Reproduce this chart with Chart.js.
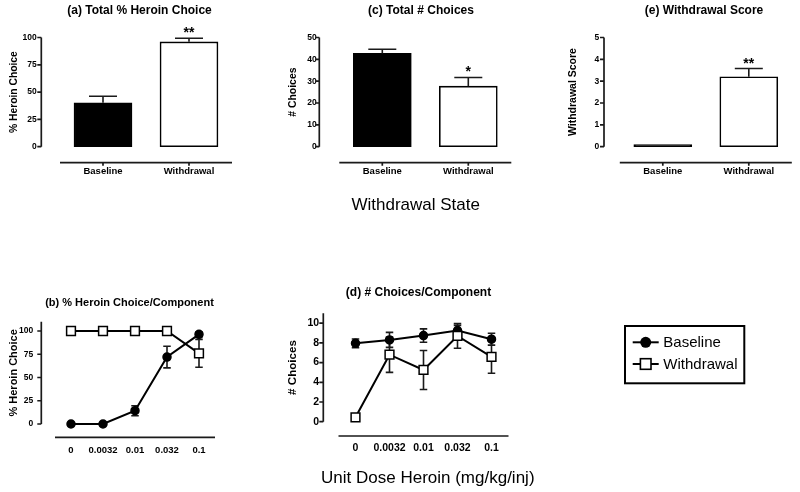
<!DOCTYPE html>
<html><head><meta charset="utf-8">
<script src="https://cdn.jsdelivr.net/npm/chart.js@4.4.1/dist/chart.umd.min.js"></script>
<style>
html,body{margin:0;padding:0;background:#fff;}
body{width:800px;height:492px;overflow:hidden;position:relative;font-family:'Liberation Sans',Arial,sans-serif;}
canvas{position:absolute;}
#overlay{position:absolute;left:0;top:0;}
</style></head><body>
<canvas id="cA" width="279" height="190" style="left:0px;top:0px"></canvas>
<canvas id="cC" width="278" height="190" style="left:282px;top:0px"></canvas>
<canvas id="cE" width="288" height="190" style="left:560px;top:0px"></canvas>
<canvas id="cB" width="259" height="200" style="left:0px;top:280px"></canvas>
<canvas id="cD" width="273" height="200" style="left:282px;top:280px"></canvas>
<svg id="overlay" width="800" height="492" xmlns="http://www.w3.org/2000/svg" font-family="'Liberation Sans', Arial, sans-serif">
  <text x="415.7" y="210" font-size="17" text-anchor="middle" fill="#000">Withdrawal State</text>
  <text x="427.8" y="482.5" font-size="17" text-anchor="middle" fill="#000">Unit Dose Heroin (mg/kg/inj)</text>
  <rect x="625" y="326" width="119.3" height="57.3" fill="#fff" stroke="#000" stroke-width="2"/>
  <line x1="632.7" y1="342.3" x2="658.7" y2="342.3" stroke="#000" stroke-width="2"/>
  <circle cx="645.7" cy="342.3" r="5.5" fill="#000"/>
  <line x1="632.7" y1="364" x2="658.7" y2="364" stroke="#000" stroke-width="2"/>
  <rect x="640.4" y="358.7" width="10.6" height="10.6" fill="#fff" stroke="#000" stroke-width="1.6"/>
  <text x="663.3" y="347.3" font-size="15" fill="#000">Baseline</text>
  <text x="663.3" y="369" font-size="15" fill="#000">Withdrawal</text>
</svg>
<script>
// ---------- data ----------
const stateLabels = ['Baseline', 'Withdrawal'];
const pctHeroin = [40.2, 96];
const pctHeroinErr = [6, 3.3];
const pctHeroinSig = ['', '**'];
const totalChoices = [42.7, 27.7];
const totalChoicesErr = [1.9, 4];
const totalChoicesSig = ['', '*'];
const wdScore = [0, 3.2];
const wdScoreErr = [0, 0.38];
const wdScoreSig = ['', '**'];

const doseLabels = ['0', '0.0032', '0.01', '0.032', '0.1'];
const pctBaseline = [0, 0, 14.3, 72, 96.4];
const pctBaselineErr = [0, 0, 5.4, 11.6, 2.5];
const pctWithdrawal = [100, 100, 100, 100, 76];
const pctWithdrawalErr = [0, 0, 0, 0, 15];
const chBaseline = [7.95, 8.3, 8.74, 9.25, 8.37];
const chBaselineErr = [0.44, 0.76, 0.68, 0.52, 0.6];
const chWithdrawal = [0.45, 6.8, 5.25, 8.7, 6.57];
const chWithdrawalErr = [0.15, 1.79, 1.98, 1.25, 1.65];

const pctTicks = [0, 25, 50, 75, 100];
const choiceTicks = [0, 10, 20, 30, 40, 50];
const scoreTicks = [0, 1, 2, 3, 4, 5];
const compChoiceTicks = [0, 2, 4, 6, 8, 10];

// ---------- styling helpers ----------
const FONT = "'Liberation Sans', Arial, Helvetica, sans-serif";
const INK = '#1a1a1a';
Chart.defaults.font.family = FONT;
Chart.defaults.color = '#000';

const prismAxes = {
  id: 'prismAxes',
  afterDraw(chart, args, o) {
    const {ctx, chartArea: ca, scales} = chart;
    const x = scales.x, y = scales.y;
    ctx.save();
    ctx.strokeStyle = INK; ctx.lineWidth = o.lineWidth || 1.6;
    ctx.beginPath();
    const ax = ca.left - o.yGap;
    ctx.moveTo(ax, y.getPixelForValue(y.max));
    ctx.lineTo(ax, y.getPixelForValue(y.min));
    y.ticks.forEach(t => { const p = y.getPixelForValue(t.value); ctx.moveTo(ax - o.tick, p); ctx.lineTo(ax, p); });
    const ay = ca.bottom + o.xGap;
    ctx.moveTo(ca.left, ay); ctx.lineTo(ca.right, ay);
    if (o.xTick) x.ticks.forEach((t, i) => { const p = x.getPixelForTick(i); ctx.moveTo(p, ay); ctx.lineTo(p, ay + o.xTick); });
    ctx.stroke();
    ctx.restore();
  }
};

function drawErrors(chart, o) {
  const {ctx} = chart; const y = chart.scales.y;
  ctx.save();
  ctx.strokeStyle = INK; ctx.lineWidth = o.lineWidth || 1.6;
  chart.data.datasets.forEach((ds, di) => {
    if (!ds.errors) return;
    const meta = chart.getDatasetMeta(di);
    meta.data.forEach((el, i) => {
      const e = ds.errors[i]; const v = ds.data[i];
      const top = y.getPixelForValue(v + e);
      if (e) {
        const bot = o.upOnly ? y.getPixelForValue(v) : y.getPixelForValue(v - e);
        ctx.beginPath();
        ctx.moveTo(el.x, bot); ctx.lineTo(el.x, top);
        ctx.moveTo(el.x - o.cap / 2, top); ctx.lineTo(el.x + o.cap / 2, top);
        if (!o.upOnly) { ctx.moveTo(el.x - o.cap / 2, bot); ctx.lineTo(el.x + o.cap / 2, bot); }
        ctx.stroke();
      }
      if (ds.sig && ds.sig[i]) {
        ctx.fillStyle = '#000';
        ctx.font = 'bold 14px ' + FONT;
        ctx.textAlign = 'center'; ctx.textBaseline = 'alphabetic';
        ctx.fillText(ds.sig[i], el.x, top - 1);
      }
    });
  });
  ctx.restore();
}
const errorBars = {
  id: 'errorBars',
  beforeDatasetsDraw(chart, a, o) { if (!o.above) drawErrors(chart, o); },
  afterDatasetsDraw(chart, a, o) { if (o.above) drawErrors(chart, o); }
};

function buildScales(g, yTicks, yMax, yTitle) {
  return {
    x: {
      type: 'category', offset: true,
      grid: {display: false, drawTicks: false}, border: {display: false},
      ticks: {font: {size: g.xFs, weight: 'bold'}, color: '#000', padding: g.xPad, maxRotation: 0, autoSkip: false},
      afterFit(s) { s.height = g.xH; }
    },
    y: {
      type: 'linear', min: 0, max: yMax,
      grid: {display: false, drawTicks: false}, border: {display: false},
      afterBuildTicks(s) { s.ticks = yTicks.map(v => ({value: v})); },
      ticks: {font: {size: g.yFs, weight: 'bold'}, color: '#000', padding: g.yPad},
      title: {display: true, text: yTitle, color: '#000', font: {size: g.ytFs, weight: 'bold'}, padding: {top: g.ytPad, bottom: 0}},
      afterFit(s) { s.width = g.yW; }
    },
    pad: {
      type: 'linear', position: 'right', display: true,
      grid: {display: false, drawTicks: false}, border: {display: false},
      ticks: {display: false},
      afterFit(s) { s.width = g.padR; }
    }
  };
}

function makeChart(id, type, labels, datasets, g, yTicks, yMax, yTitle, title, errOpts) {
  return new Chart(document.getElementById(id), {
    type: type,
    data: {labels: labels, datasets: datasets},
    options: {
      responsive: false, animation: false, devicePixelRatio: 1,
      layout: {padding: 0},
      events: [],
      scales: buildScales(g, yTicks, yMax, yTitle),
      plugins: {
        legend: {display: false}, tooltip: {enabled: false},
        title: {display: true, text: title, color: '#000', font: {size: g.tFs, weight: 'bold'}, padding: {top: g.tPt, bottom: g.tPb}},
        prismAxes: {yGap: g.yGap, xGap: g.xGap, tick: 4, xTick: g.xTick, lineWidth: 1.7},
        errorBars: errOpts
      }
    },
    plugins: [prismAxes, errorBars]
  });
}

function barSet(vals, errs, sig) {
  return {data: vals, errors: errs, sig: sig, xAxisID: 'x', yAxisID: 'y',
    backgroundColor: ['#000', '#fff'], borderColor: '#000', borderWidth: 1.6,
    borderSkipped: false, barThickness: 58, minBarLength: 2, clip: false};
}
function lineSet(label, vals, errs, filled, order) {
  return {label: label, data: vals, errors: errs, xAxisID: 'x', yAxisID: 'y', order: order,
    borderColor: '#000', borderWidth: 2, tension: 0, clip: false,
    pointStyle: filled ? 'circle' : 'rect', pointRadius: filled ? 4 : 6.2,
    pointBackgroundColor: filled ? '#000' : '#fff', pointBorderColor: '#000', pointBorderWidth: 1.5};
}

const topG = {tFs: 12, tPt: 3.8, tPb: 19.3, xH: 43.3, xFs: 9.5, xPad: 19.3, yFs: 8.5, xTick: 3, xGap: 16};
const barErr = {above: true, upOnly: true, cap: 28, lineWidth: 1.6};
const lineErr = {above: false, upOnly: false, cap: 7.5, lineWidth: 1.6};

makeChart('cA', 'bar', stateLabels, [barSet(pctHeroin, pctHeroinErr, pctHeroinSig)],
  Object.assign({}, topG, {yW: 60, padR: 47, yPad: 23.3, ytFs: 10.3, ytPad: 7.8, yGap: 18.7}),
  pctTicks, 100, '% Heroin Choice', '(a) Total % Heroin Choice', barErr);

makeChart('cC', 'bar', stateLabels, [barSet(totalChoices, totalChoicesErr, totalChoicesSig)],
  Object.assign({}, topG, {yW: 57.3, padR: 48.7, yPad: 22.6, ytFs: 10.4, ytPad: 4.8, yGap: 20}),
  choiceTicks, 50, '# Choices', '(c) Total # Choices', barErr);

makeChart('cE', 'bar', stateLabels, [barSet(wdScore, wdScoreErr, wdScoreSig)],
  Object.assign({}, topG, {yW: 59.8, padR: 56.2, yPad: 20.5, ytFs: 10.5, ytPad: 6.4, yGap: 15.8}),
  scoreTicks, 5, 'Withdrawal Score', '(e) Withdrawal Score', barErr);

makeChart('cB', 'line', doseLabels,
  [lineSet('Baseline', pctBaseline, pctBaselineErr, true, 1), lineSet('Withdrawal', pctWithdrawal, pctWithdrawalErr, false, 0)],
  {tFs: 11, tPt: 16.7, tPb: 11.8, xH: 56, xFs: 9.5, xPad: 20.3, yFs: 8.5, xTick: 0, xGap: 13.3,
   yW: 55, padR: 44, yPad: 21.7, ytFs: 11, ytPad: 7.2, yGap: 13.7},
  pctTicks, 110, '% Heroin Choice', '(b) % Heroin Choice/Component', lineErr);

makeChart('cD', 'line', doseLabels,
  [lineSet('Baseline', chBaseline, chBaselineErr, true, 1), lineSet('Withdrawal', chWithdrawal, chWithdrawalErr, false, 0)],
  {tFs: 12, tPt: 5.1, tPb: 13.8, xH: 58.3, xFs: 10.5, xPad: 20.3, yFs: 10.5, xTick: 0, xGap: 14.3,
   yW: 56.5, padR: 46.5, yPad: 19.3, ytFs: 11.6, ytPad: 4.3, yGap: 15.2},
  compChoiceTicks, 11, '# Choices', '(d) # Choices/Component', lineErr);
</script>
</body></html>
